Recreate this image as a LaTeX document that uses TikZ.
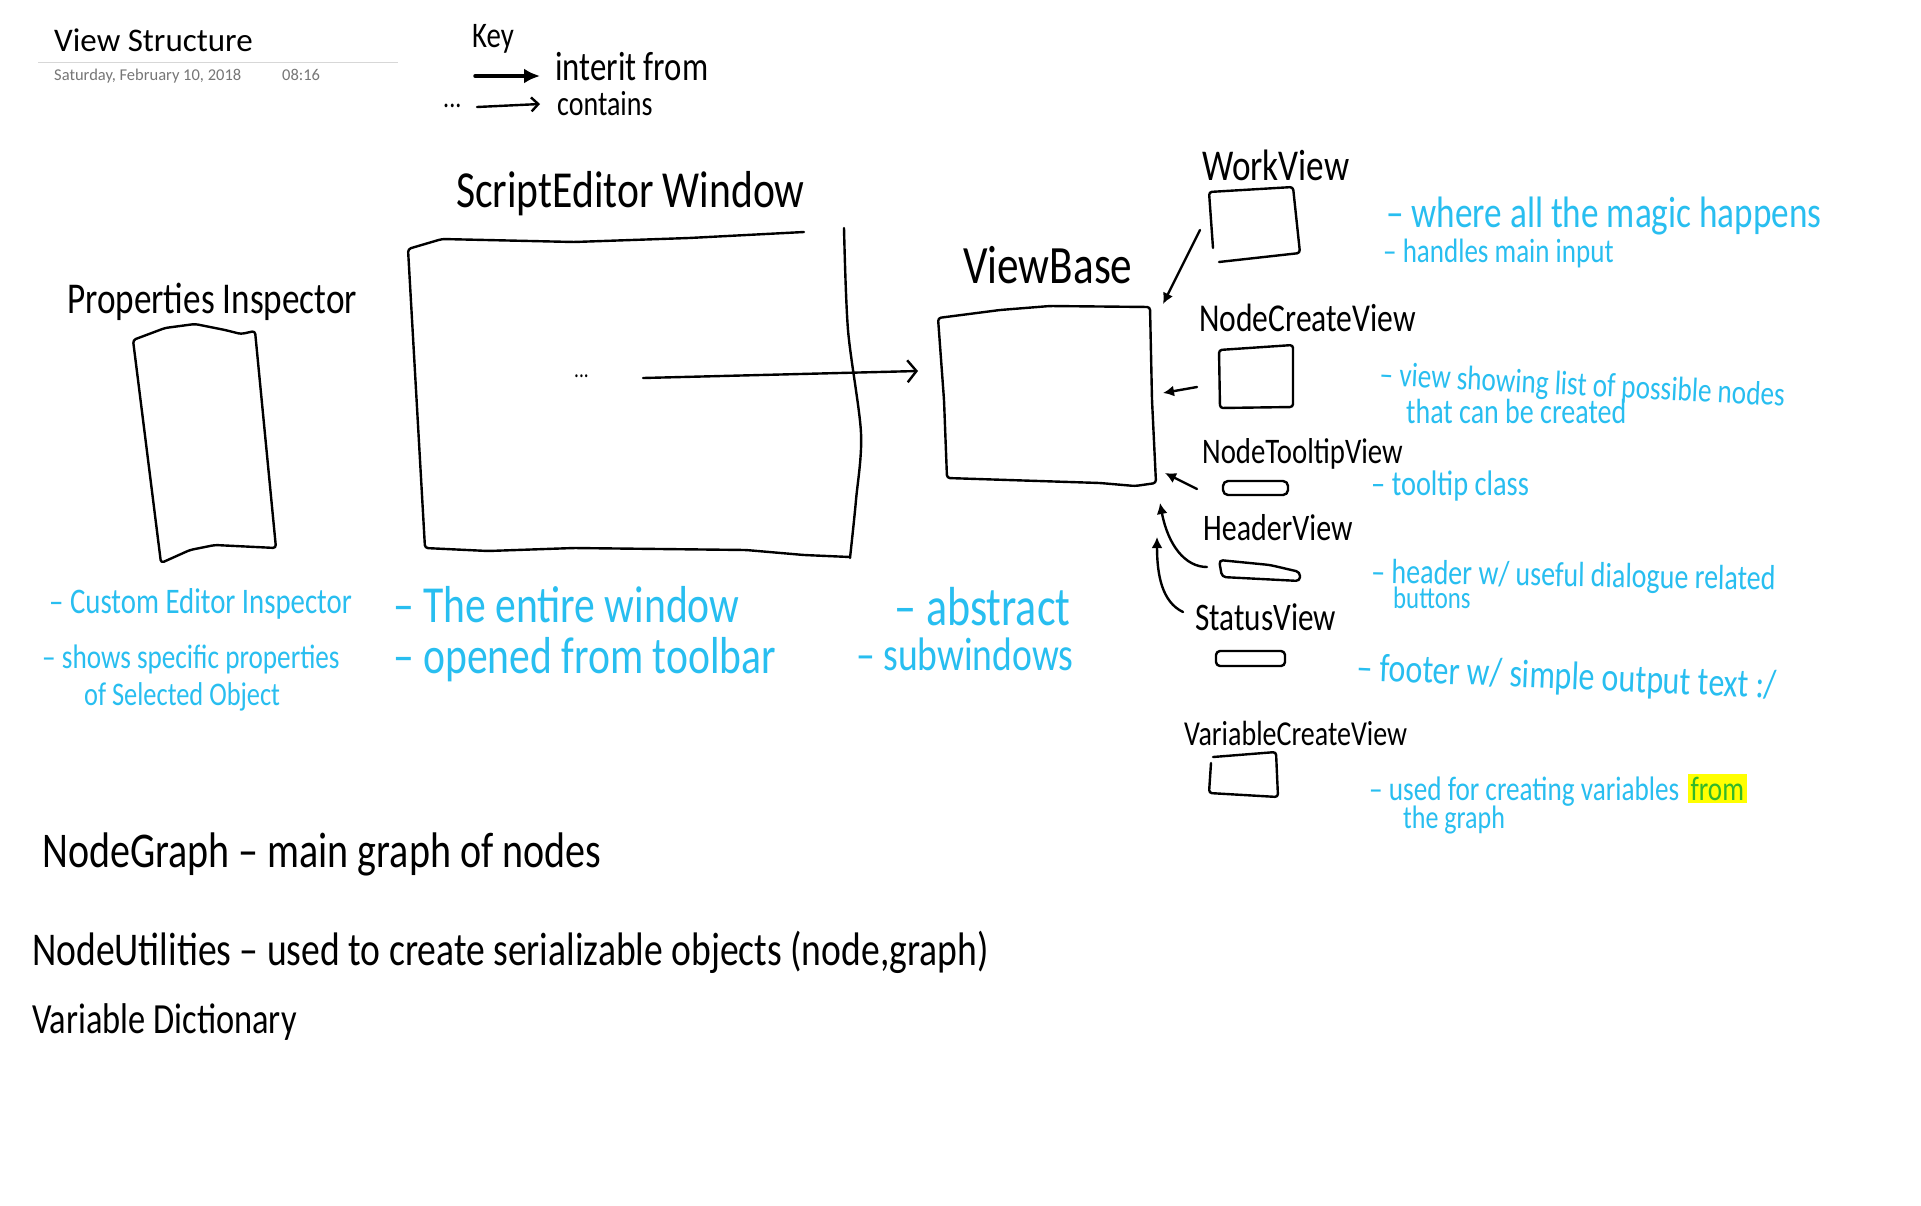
\documentclass[tikz,border=0pt]{standalone}
\usepackage{fontspec}
\setmainfont{Carlito}
\newfontfamily\handfont[FakeStretch=0.8]{Carlito}
\usetikzlibrary{arrows.meta}
\definecolor{noteblue}{RGB}{40,190,240}
\definecolor{hlyellow}{RGB}{255,255,0}
\definecolor{hlgreen}{RGB}{50,185,40}
\definecolor{dategray}{RGB}{118,118,118}
\definecolor{rulegray}{RGB}{215,215,215}
\newcommand{\pensize}[1]{\fontsize{#1}{#1}\selectfont}

\begin{document}
\begin{tikzpicture}[x=1pt,y=-1pt,
  hand/.style={font=\handfont\pensize{#1},inner sep=0pt,anchor=base west},hand/.default=40,
  note/.style={hand=#1,text=noteblue},note/.default=32,
  sketch/.style={line width=2.4pt,line join=round,line cap=round},
  inherits/.style={sketch,-{Latex[length=11pt,width=11pt]}},
  contains/.style={sketch,-{Straight Barb[length=9pt,width=22pt]}}]

  \path[fill=white,use as bounding box] (0,0) rectangle (1921,1205);

  % page header
  \node[font=\pensize{33},inner sep=0pt,anchor=base west] (title) at (54,51) {View Structure};
  \draw[rulegray,line width=1pt] (38,62) -- (398,62);
  \node[font=\pensize{16.5},text=dategray,inner sep=0pt,anchor=base west] (date) at (54,80) {Saturday, February 10, 2018};
  \node[font=\pensize{16.5},text=dategray,inner sep=0pt,anchor=base west] (time) at (282,80) {08:16};

  % key
  \node[hand=36] (key) at (472,47) {Key};
  \coordinate (key a1) at (475,76);
  \coordinate (key a2) at (540,76);
  \draw[sketch,line width=3.5pt,-{Latex[length=16pt,width=15pt]}] (key a1) -- (key a2);
  \node[hand=41] (key inherit) at (555,80) {interit from};
  \node[hand=30,anchor=west] (key dots) at (443,106) {...};
  \coordinate (key b1) at (477,107);
  \coordinate (key b2) at (540,104);
  \draw[sketch,-{Straight Barb[length=7pt,width=14pt]}] (key b1) -- (key b2);
  \node[hand=35] (key contains) at (557,115) {contains};

  % properties inspector
  \node[hand=44] (pi label) at (67,313) {Properties Inspector};
  \draw[sketch,rounded corners=3pt] (161,563) -- (133,340) -- (165,328) -- (195,324) -- (225,330)
    -- (241,334) -- (255,331) -- (276,548) -- (215,545) -- (190,550) -- cycle;
  \node[note=36] (pi note1) at (49,613) {– Custom Editor Inspector};
  \node[note=34] (pi note2) at (42,668) {– shows specific properties};
  \node[note=33] (pi note3) at (84,705) {of Selected Object};

  % script editor window
  \node[hand=52] (se label) at (456,207) {ScriptEditor Window};
  \draw[sketch,rounded corners=3pt] (804,232) -- (689,238) -- (574,242) -- (442,239) -- (408,249)
    -- (425,548) -- (488,551) -- (574,548) -- (746,550) -- (804,555) -- (850,557);
  \draw[sketch] plot[smooth] coordinates {(844,228) (848,330) (861,433) (856,500) (850,558)};
  \node[hand=24,anchor=west] (se dots) at (574,376) {...};
  \node[note=52] (se note1) at (393,622) {– The entire window};
  \node[note=52] (se note2) at (393,673) {– opened from toolbar};

  % view base
  \node[hand=54] (vb label) at (963,283) {ViewBase};
  \draw[sketch,rounded corners=3pt] (938,318) -- (1000,310) -- (1050,306) -- (1150,307) -- (1152,400)
    -- (1156,483) -- (1135,486) -- (1100,483) -- (947,478) -- (944,400) -- cycle;
  \node[note=55] (vb note1) at (894,625) {– abstract};
  \node[note=47] (vb note2) at (856,670) {– subwindows};
  \coordinate (se out) at (643,378);
  \coordinate (vb in) at (918,371);
  \draw[contains] (se out) -- (vb in);

  % sub views
  \node[hand=44] (wv label) at (1202,180) {WorkView};
  \draw[sketch,rounded corners=3pt] (1213,248) -- (1209,192) -- (1293,187) -- (1300,253) -- (1219,262);
  \node[note=44] (wv note1) at (1386,227) {– where all the magic happens};
  \node[note=33.8] (wv note2) at (1383,262) {– handles main input};

  \node[hand=39.5] (nc label) at (1199,331) {NodeCreateView};
  \draw[sketch,rounded corners=3pt] (1219,350) -- (1293,345) -- (1293,407) -- (1220,408) -- cycle;
  \node[note=34,rotate=-3] (nc note1) at (1379,385) {– view showing list of possible nodes};
  \node[note=35] (nc note2) at (1406,423) {that can be created};

  \node[hand=36] (tt label) at (1202,463) {NodeTooltipView};
  \draw[sketch,rounded corners=5pt] (1223,481) rectangle (1288,495);
  \node[note=35.5] (tt note) at (1371,495) {– tooltip class};

  \node[hand=37.5] (hd label) at (1203,540) {HeaderView};
  \draw[sketch,rounded corners=4pt] (1219,560) -- (1270,565) -- (1300,572) -- (1300,581) -- (1222,577) -- cycle;
  \node[note=35,rotate=-1] (hd note1) at (1371,583) {– header w/ useful dialogue related};
  \node[note=31] (hd note2) at (1393,608) {buttons};

  \node[hand=39] (st label) at (1195,630) {StatusView};
  \draw[sketch,rounded corners=4pt] (1216,651) rectangle (1285,666);
  \node[note=40,rotate=-2.5] (st note) at (1356,680) {– footer w/ simple output text :/};

  \node[hand=35] (vc label) at (1184,745) {VariableCreateView};
  \draw[sketch,rounded corners=3pt] (1211,763) -- (1209,793) -- (1278,797) -- (1276,752) -- (1213,757);
  \node[note=34] (vc note1) at (1369,800) {– used for creating variables};
  \node[note=34,fill=hlyellow,text=hlgreen,inner sep=3pt,anchor=base west] (vc from)
    at ([xshift=8pt]vc note1.base east) {from};
  \node[note=32.5] (vc note2) at (1403,828) {the graph};

  % inherit arrows into the view base
  \coordinate (wv tail) at (1200,230);
  \coordinate (vb ne) at (1163,304);
  \coordinate (nc tail) at (1197,387);
  \coordinate (vb e) at (1163,393);
  \coordinate (tt tail) at (1197,489);
  \coordinate (vb se) at (1165,473);
  \coordinate (hd tail) at (1207,567);
  \coordinate (vb s1) at (1160,503);
  \coordinate (st tail) at (1183,612);
  \coordinate (vb s2) at (1157,537);
  \draw[inherits] (wv tail) -- (vb ne);
  \draw[inherits] (nc tail) -- (vb e);
  \draw[inherits] (tt tail) -- (vb se);
  \draw[inherits] (hd tail) .. controls (1185,567) and (1168,545) .. (vb s1);
  \draw[inherits] (st tail) .. controls (1162,602) and (1157,575) .. (vb s2);

  % other classes
  \node[hand=50] (graph) at (42,867) {NodeGraph – main graph of nodes};
  \node[hand=47] (utils) at (32,965) {NodeUtilities – used to create serializable objects (node,graph)};
  \node[hand=43] (dict) at (32,1033) {Variable Dictionary};

\end{tikzpicture}
\end{document}
